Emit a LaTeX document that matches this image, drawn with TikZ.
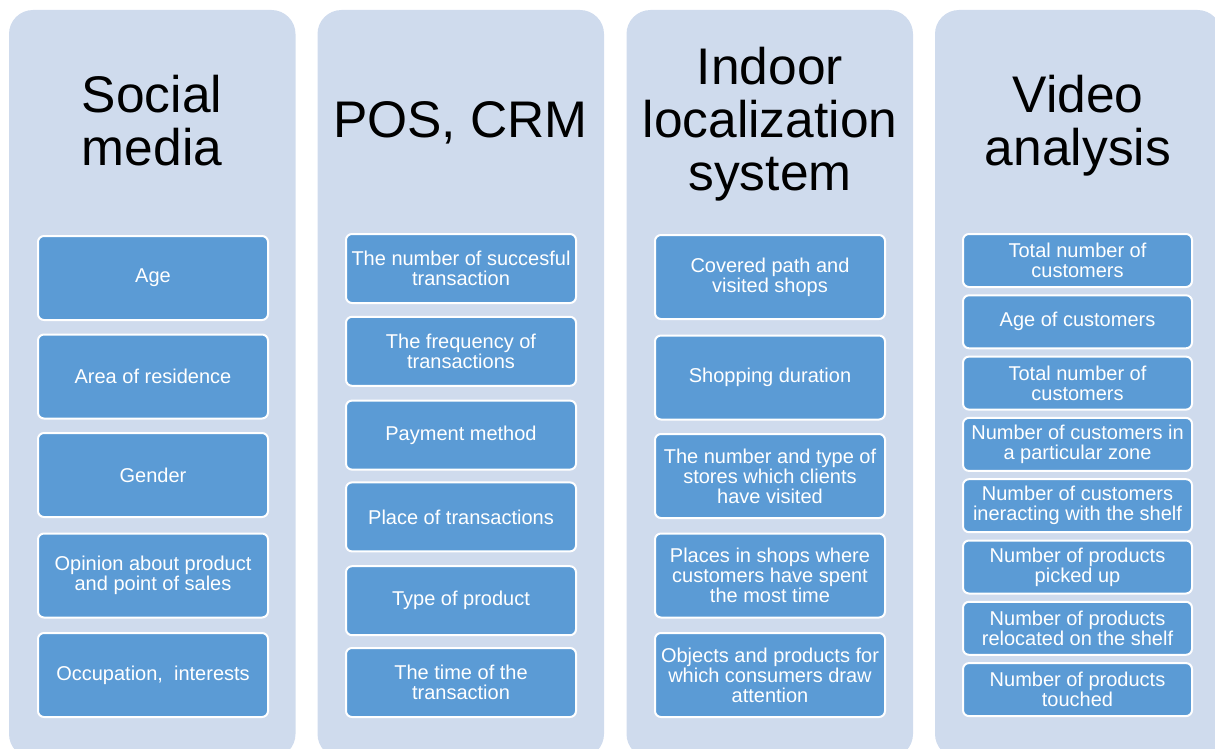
\documentclass[tikz,border=0pt]{standalone}
\usepackage{fontspec}
\setmainfont{Liberation Sans}
\definecolor{panelbg}{RGB}{207,219,237}
\definecolor{itemfill}{RGB}{91,155,213}

\begin{document}
\begin{tikzpicture}[x=1pt,y=-1pt,
  panel/.style={fill=panelbg, rounded corners=24pt},
  head/.style={align=center, inner sep=0pt, text=black,
    font=\fontsize{51.5}{53}\selectfont},
  item/.style={draw=white, line width=2pt, fill=itemfill, rounded corners=6pt,
    text=white, align=center, inner sep=0pt, minimum width=230pt,
    font=\fontsize{20}{20}\selectfont},
  itemA/.style={item, minimum height=84pt},
  itemB/.style={item, minimum height=69pt},
  itemC/.style={item, minimum height=53pt, minimum width=229pt}]

\clip (0,0) rectangle (1215,749);

% four background panels
\fill[panel] (9,10) rectangle (295.5,758);
\fill[panel] (317.5,10) rectangle (604,758);
\fill[panel] (626.5,10) rectangle (913,758);
\fill[panel] (935,10) rectangle (1221.5,758);

% column titles
\node[head] (h1) at (152,121) {Social\\media};
\node[head, anchor=base] (h2) at (460.5,138) {POS, CRM};
\node[head] (h3) at (770,124.5) {Indoor\\localization\\system};
\node[head] (h4) at (1078,126) {Video\\analysis};

% social media
\node[itemA] (s1) at (153,278) {Age};
\node[itemA] (s2) at (153,376.5) {Area of residence};
\node[itemA] (s3) at (153,475) {Gender};
\node[itemA] (s4) at (153,575.5) {Opinion about product\\and point of sales};
\node[itemA] (s5) at (153,675) {Occupation,\ \ interests};

% POS, CRM
\node[itemB] (p1) at (461,268.5) {The number of succesful\\transaction};
\node[itemB] (p2) at (461,351.3) {The frequency of\\transactions};
\node[itemB] (p3) at (461,435.1) {Payment method};
\node[itemB] (p4) at (461,516.9) {Place of transactions};
\node[itemB] (p5) at (461,600.7) {Type of product};
\node[itemB] (p6) at (461,682.5) {The time of the\\transaction};

% indoor localization
\node[itemA] (l1) at (770,277) {Covered path and\\visited shops};
\node[itemA] (l2) at (770,377.5) {Shopping duration};
\node[itemA] (l3) at (770,476) {The number and type of\\stores which clients\\have visited};
\node[itemA] (l4) at (770,575.5) {Places in shops where\\customers have spent\\the most time};
\node[itemA] (l5) at (770,675) {Objects and products for\\which consumers draw\\attention};

% video analysis
\node[itemC] (v1) at (1077.5,260.5) {Total number of\\customers};
\node[itemC] (v2) at (1077.5,321.8) {Age of customers};
\node[itemC] (v3) at (1077.5,383.1) {Total number of\\customers};
\node[itemC] (v4) at (1077.5,444.4) {Number of customers in\\a particular zone};
\node[itemC] (v5) at (1077.5,505.7) {Number of customers\\ineracting with the shelf};
\node[itemC] (v6) at (1077.5,567.0) {Number of products\\picked up};
\node[itemC] (v7) at (1077.5,628.3) {Number of products\\relocated on the shelf};
\node[itemC] (v8) at (1077.5,689.6) {Number of products\\touched};
\end{tikzpicture}
\end{document}
